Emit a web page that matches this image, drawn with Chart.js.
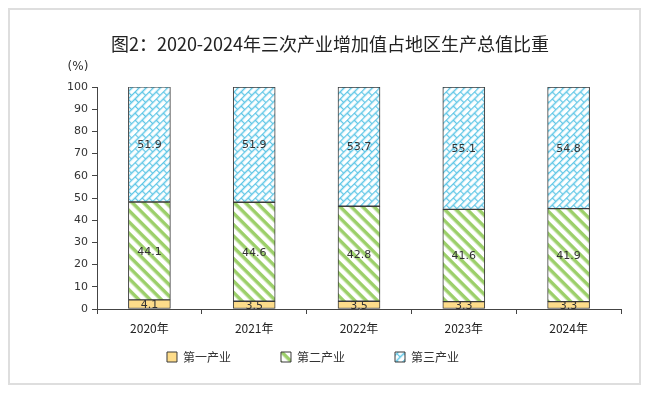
<!DOCTYPE html>
<html>
<head>
<meta charset="utf-8">
<script src="https://cdn.jsdelivr.net/npm/chart.js@4/dist/chart.umd.min.js"></script>
<style>
  html, body { margin: 0; padding: 0; background: #fff; }
  #wrap { width: 648px; height: 394px; }
</style>
</head>
<body>
<div id="wrap"><canvas id="chart" width="648" height="394"></canvas></div>
<script>
// data
const years = ['2020年', '2021年', '2022年', '2023年', '2024年'];
const primary = [4.1, 3.5, 3.5, 3.3, 3.3];
const secondary = [44.1, 44.6, 42.8, 41.6, 41.9];
const tertiary = [51.9, 51.9, 53.7, 55.1, 54.8];
const seriesNames = ['第一产业', '第二产业', '第三产业'];
const yTicks = [0, 10, 20, 30, 40, 50, 60, 70, 80, 90, 100];

const titleText = '图2：2020-2024年三次产业增加值占地区生产总值比重';
const cjk = '"Noto Sans CJK SC", "Noto Sans", sans-serif';
const latin = '"DejaVu Sans", "Noto Sans", sans-serif';

// green diagonal stripes
function stripePattern() {
    const c = document.createElement('canvas');
    c.width = 8; c.height = 8;
    const g = c.getContext('2d');
    g.fillStyle = '#ffffff';
    g.fillRect(0, 0, 8, 8);
    g.fillStyle = '#9ccf6a';
    g.fillRect(0, 0, 8, 3.5);
    const p = g.createPattern(c, 'repeat');
    p.setTransform(new DOMMatrix().rotate(45));
    return p;
}

// light blue brick pattern, turned 45 degrees
function brickPattern() {
    const c = document.createElement('canvas');
    c.width = 10; c.height = 10;
    const g = c.getContext('2d');
    g.fillStyle = '#ffffff';
    g.fillRect(0, 0, 10, 10);
    g.strokeStyle = '#5ec6e6';
    g.lineWidth = 1.3;
    g.beginPath();
    g.moveTo(0, 0.5); g.lineTo(10, 0.5);
    g.moveTo(0, 5.5); g.lineTo(10, 5.5);
    g.moveTo(0.5, 0); g.lineTo(0.5, 5.5);
    g.moveTo(5.5, 5.5); g.lineTo(5.5, 10);
    g.stroke();
    const p = g.createPattern(c, 'repeat');
    p.setTransform(new DOMMatrix().rotate(-45));
    return p;
}

const frameAndText = {
    id: 'frameAndText',
    beforeDraw(chart) {
        const ctx = chart.ctx;
        ctx.save();
        ctx.strokeStyle = '#dedede';
        ctx.lineWidth = 2;
        ctx.strokeRect(9, 9, 631, 375);
        ctx.restore();
    },
    afterDraw(chart) {
        const ctx = chart.ctx;
        ctx.save();
        ctx.fillStyle = '#222';
        ctx.textAlign = 'center';
        ctx.textBaseline = 'middle';
        ctx.font = '18px ' + cjk;
        ctx.fillText(titleText, 330, 44);
        ctx.font = '12px ' + latin;
        ctx.fillStyle = '#333';
        ctx.fillText('(%)', 78, 67);
        ctx.restore();
    },
    afterDatasetsDraw(chart) {
        const ctx = chart.ctx;
        ctx.save();
        ctx.font = '11px ' + latin;
        ctx.fillStyle = '#333';
        ctx.textAlign = 'center';
        ctx.textBaseline = 'middle';
        chart.data.datasets.forEach((ds, i) => {
            chart.getDatasetMeta(i).data.forEach((bar, j) => {
                ctx.fillText(ds.data[j].toFixed(1), bar.x, (bar.y + bar.base) / 2 + 1);
            });
        });
        ctx.restore();
    }
};

new Chart(document.getElementById('chart'), {
    type: 'bar',
    data: {
        labels: years,
        datasets: [
            { label: seriesNames[0], data: primary, backgroundColor: '#fddc8a' },
            { label: seriesNames[1], data: secondary, backgroundColor: stripePattern() },
            { label: seriesNames[2], data: tertiary, backgroundColor: brickPattern() }
        ].map(ds => Object.assign(ds, {
            borderColor: '#3a3a3a',
            borderWidth: 1,
            borderSkipped: false,
            barThickness: 42
        }))
    },
    options: {
        responsive: false,
        animation: false,
        layout: { padding: { top: 87, right: 27, bottom: 21, left: 41 } },
        plugins: {
            title: { display: false },
            tooltip: { enabled: false },
            legend: {
                position: 'bottom',
                labels: {
                    boxWidth: 10,
                    boxHeight: 10,
                    padding: 14,
                    color: '#333',
                    font: { size: 12, family: cjk },
                    generateLabels(chart) {
                        const items = Chart.defaults.plugins.legend.labels.generateLabels(chart);
                        items.forEach(it => { it.text = it.text + '\u3000\u3000\u3000'; });
                        return items;
                    }
                }
            }
        },
        scales: {
            x: {
                stacked: true,
                afterFit(scale) { scale.height = 28; },
                grid: { drawOnChartArea: false, drawTicks: true, tickLength: 5, color: '#444', offset: true },
                border: { display: true, color: '#444', width: 1 },
                ticks: { padding: 7, color: '#222', font: { size: 12, family: cjk } }
            },
            y: {
                stacked: true,
                min: 0,
                max: 100,
                afterFit(scale) { scale.width = 56; },
                afterBuildTicks(scale) { scale.ticks = yTicks.map(v => ({ value: v })); },
                grid: { drawOnChartArea: false, drawTicks: true, tickLength: 5, color: '#444' },
                border: { display: true, color: '#444', width: 1 },
                ticks: { padding: 4, color: '#333', font: { size: 11, family: latin } }
            }
        }
    },
    plugins: [frameAndText]
});
</script>
</body>
</html>
